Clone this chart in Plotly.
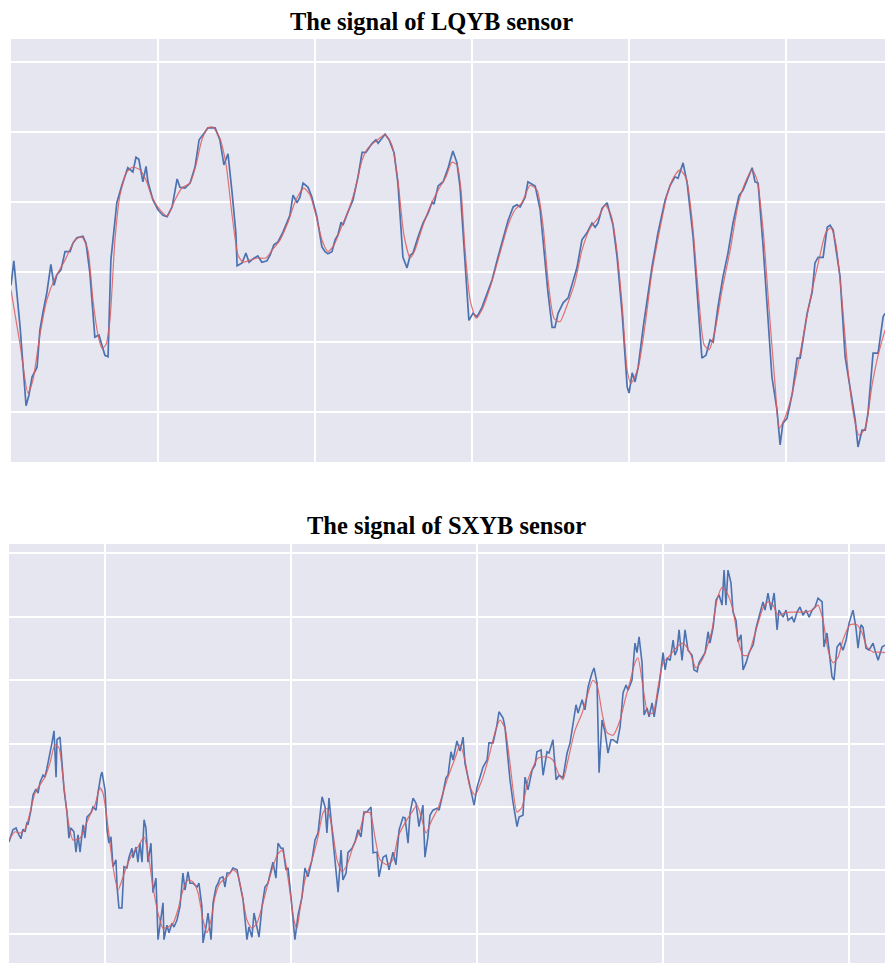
import plotly.graph_objects as go

# ---------------- LQYB sensor ----------------
lqyb_t = [
    3.2, 4.1, 6.1, 8.0, 8.9, 9.9, 11.5, 12.4, 13.4, 14.6,
    15.9, 16.9, 17.8, 19.1, 20.4, 22.0, 22.9, 24.2, 26.1, 27.1,
    28.3, 29.9, 31.2, 32.2, 33.1, 34.1, 35.0, 36.9, 38.5, 40.4,
    42.0, 43.0, 43.9, 45.2, 46.2, 46.8, 48.4, 50.0, 51.6, 52.9,
    54.5, 56.1, 57.0, 58.6, 60.2, 61.8, 63.1, 65.0, 65.9, 68.2,
    69.7, 71.0, 72.3, 73.6, 74.8, 75.2, 76.8, 78.0, 79.0, 80.3,
    81.8, 83.1, 84.7, 85.7, 86.9, 88.2, 89.8, 92.0, 93.0, 94.3,
    95.2, 96.2, 97.8, 99.0, 100.6, 102.2, 103.2, 104.1, 105.4, 106.4,
    107.3, 108.3, 108.9, 110.5, 112.1, 113.7, 115.0, 116.2, 118.2, 119.4,
    120.1, 122.3, 123.6, 125.2, 126.4, 128.0, 129.3, 130.3, 131.2, 132.8,
    134.4, 136.0, 137.3, 137.9, 139.2, 140.8, 142.4, 143.9, 145.2, 146.2,
    147.1, 148.4, 149.0, 150.3, 151.6, 153.2, 154.8, 156.4, 158.0, 159.9,
    161.5, 163.1, 164.3, 165.3, 166.9, 167.8, 170.1, 171.7, 173.2, 174.2,
    175.5, 176.4, 177.4, 179.0, 180.6, 182.2, 183.4, 185.0, 186.6, 188.2,
    189.2, 190.1, 191.4, 193.0, 194.9, 196.2, 197.8, 199.4, 200.0, 201.0,
    201.9, 202.9, 204.5, 207.3, 209.2, 211.5, 213.1, 214.6, 215.6, 217.2,
    218.5, 220.4, 222.0, 223.2, 224.5, 225.8, 226.8, 228.3, 229.9, 231.5,
    233.1, 235.0, 236.3, 237.6, 239.2, 240.1, 241.1, 242.7, 244.3, 245.5,
    247.1, 248.1, 249.0, 250.3, 252.0, 253.5, 254.5, 256.7, 258.3, 259.2,
    260.2, 261.8, 263.1, 264.0, 265.0, 266.2, 267.2, 268.8, 270.4, 272.0,
    272.9, 274.2, 275.2, 276.1, 277.7, 279.3, 280.9, 281.5,
]
lqyb_raw = [
    1.81, 2.16, 1.21, 0.09, 0.24, 0.50, 0.64, 1.17, 1.43, 1.70,
    2.11, 1.81, 1.96, 2.03, 2.29, 2.29, 2.41, 2.49, 2.51, 2.41,
    1.99, 1.07, 1.10, 0.96, 0.81, 0.79, 2.17, 2.99, 3.24, 3.49,
    3.43, 3.64, 3.61, 3.29, 3.51, 3.29, 3.03, 2.89, 2.81, 2.79,
    2.93, 3.33, 3.21, 3.20, 3.27, 3.50, 3.89, 4.00, 4.06, 4.06,
    3.89, 3.53, 3.69, 3.13, 2.56, 2.09, 2.13, 2.27, 2.14, 2.19,
    2.23, 2.14, 2.16, 2.24, 2.39, 2.43, 2.57, 2.81, 3.10, 2.99,
    3.07, 3.27, 3.21, 3.07, 2.79, 2.36, 2.29, 2.26, 2.29, 2.46,
    2.53, 2.71, 2.67, 2.86, 3.03, 3.36, 3.71, 3.71, 3.84, 3.89,
    3.84, 3.97, 3.89, 3.70, 3.27, 2.21, 2.06, 2.24, 2.27, 2.50,
    2.70, 2.84, 3.00, 2.97, 3.23, 3.29, 3.49, 3.73, 3.56, 3.21,
    2.64, 1.79, 1.31, 1.41, 1.36, 1.50, 1.70, 1.89, 2.17, 2.50,
    2.74, 2.93, 2.96, 2.93, 3.07, 3.29, 3.23, 2.89, 2.17, 1.70,
    1.21, 1.21, 1.41, 1.56, 1.63, 1.86, 2.06, 2.46, 2.56, 2.70,
    2.64, 2.70, 2.91, 2.99, 2.67, 2.21, 1.41, 0.36, 0.27, 0.56,
    0.43, 0.64, 1.21, 2.07, 2.56, 3.03, 3.24, 3.36, 3.34, 3.56,
    3.27, 2.50, 1.50, 0.77, 0.81, 1.03, 1.00, 1.50, 1.93, 2.27,
    2.70, 3.09, 3.17, 3.31, 3.49, 3.29, 3.27, 2.36, 1.31, 0.50,
    0.03, -0.47, -0.16, -0.09, 0.27, 0.77, 0.77, 1.41, 1.71, 2.13,
    2.21, 2.21, 2.64, 2.67, 2.60, 2.27, 1.93, 0.79, 0.36, -0.11,
    -0.50, -0.26, -0.26, -0.01, 0.84, 0.84, 1.36, 1.41,
]
lqyb_smooth_t = [
    3.2, 6.1, 8.6, 10.2, 12.4, 14.6, 17.2, 20.4, 23.6, 25.8,
    27.7, 29.3, 30.9, 32.2, 33.4, 34.7, 36.3, 37.9, 40.1, 42.0,
    44.3, 46.2, 48.1, 50.6, 52.9, 55.4, 57.6, 60.2, 62.1, 64.0,
    65.9, 67.5, 69.7, 71.7, 73.6, 75.5, 77.1, 79.3, 81.8, 84.4,
    86.3, 88.9, 91.4, 93.9, 96.5, 98.4, 100.3, 102.2, 104.1, 106.1,
    108.3, 110.5, 112.7, 115.0, 116.9, 119.4, 122.3, 124.5, 126.4, 128.3,
    130.3, 131.8, 134.1, 136.6, 139.2, 141.7, 143.6, 145.2, 146.5, 147.8,
    149.4, 151.3, 153.2, 155.7, 158.9, 161.5, 163.7, 165.9, 168.5, 170.7,
    172.6, 174.2, 176.1, 178.0, 180.3, 182.8, 185.0, 187.6, 190.1, 192.4,
    194.3, 195.9, 197.8, 199.4, 200.6, 202.9, 205.1, 207.3, 209.9, 212.1,
    214.3, 216.2, 218.2, 220.1, 222.0, 223.9, 225.5, 227.4, 229.6, 232.2,
    234.7, 236.9, 239.2, 240.8, 242.7, 244.6, 246.5, 247.8, 249.4, 251.6,
    253.8, 256.1, 258.3, 260.8, 262.7, 264.3, 265.9, 267.8, 269.7, 271.7,
    273.2, 275.2, 277.4, 279.3, 281.5,
]
lqyb_smooth = [
    1.74, 0.96, 0.27, 0.46, 1.10, 1.60, 1.91, 2.17, 2.46, 2.50,
    2.31, 1.60, 1.10, 0.91, 0.96, 1.31, 2.46, 3.10, 3.43, 3.50,
    3.46, 3.31, 3.07, 2.89, 2.80, 3.03, 3.20, 3.27, 3.53, 3.89,
    4.06, 4.07, 3.91, 3.53, 2.81, 2.24, 2.14, 2.17, 2.20, 2.20,
    2.31, 2.46, 2.71, 3.03, 3.20, 3.10, 2.81, 2.46, 2.29, 2.39,
    2.63, 2.86, 3.17, 3.60, 3.77, 3.87, 3.96, 3.81, 3.31, 2.53,
    2.20, 2.31, 2.63, 2.93, 3.17, 3.36, 3.57, 3.53, 3.17, 2.31,
    1.60, 1.34, 1.46, 1.77, 2.27, 2.67, 2.89, 2.99, 3.24, 3.17,
    2.67, 1.89, 1.34, 1.29, 1.53, 1.86, 2.31, 2.63, 2.77, 2.96,
    2.81, 2.39, 1.53, 0.60, 0.41, 0.63, 1.24, 2.00, 2.63, 3.10,
    3.36, 3.46, 3.34, 2.74, 1.74, 0.96, 0.89, 1.17, 1.74, 2.31,
    2.96, 3.27, 3.46, 3.31, 2.60, 1.46, 0.39, -0.23, -0.11, 0.20,
    0.67, 1.24, 1.74, 2.24, 2.57, 2.63, 2.39, 1.60, 0.60, -0.09,
    -0.33, -0.23, 0.39, 0.81, 1.17,
]

# ---------------- SXYB sensor ----------------
sxyb_t = [
    -1.6, 0.5, 2.2, 3.2, 4.8, 5.9, 7.0, 8.1, 8.6, 10.2,
    11.3, 12.9, 14.0, 15.1, 16.7, 17.7, 18.8, 20.4, 21.5, 22.6,
    23.7, 24.2, 25.8, 26.9, 28.0, 29.6, 30.6, 31.7, 33.3, 34.4,
    35.5, 36.6, 38.2, 39.2, 40.3, 42.5, 43.5, 45.2, 46.2, 47.8,
    48.4, 50.0, 51.1, 52.1, 53.2, 54.3, 55.9, 56.5, 57.5, 59.1,
    60.2, 61.8, 62.9, 64.5, 65.1, 66.7, 67.7, 68.8, 69.9, 71.0,
    72.0, 73.1, 74.7, 75.8, 77.4, 78.5, 80.1, 81.2, 81.7, 83.3,
    84.4, 86.0, 87.1, 88.7, 90.3, 91.9, 93.0, 94.6, 95.7, 97.3,
    99.5, 100.5, 102.1, 102.7, 104.3, 105.4, 107.0, 108.1, 109.7, 110.8,
    111.8, 113.4, 114.5, 115.6, 117.2, 118.8, 121.0, 122.0, 124.2, 125.3,
    126.3, 127.4, 129.0, 130.1, 131.7, 132.8, 134.4, 136.0, 137.6, 139.2,
    140.3, 141.9, 143.0, 144.6, 145.7, 147.3, 148.4, 150.0, 151.0, 152.1,
    153.8, 155.9, 157.5, 159.1, 161.3, 162.9, 164.5, 166.7, 168.3, 169.3,
    170.4, 172.6, 173.6, 175.3, 176.9, 177.9, 179.6, 180.6, 182.8, 184.4,
    186.0, 187.6, 189.2, 190.8, 193.0, 194.1, 196.2, 197.3, 199.5, 201.1,
    202.7, 204.8, 206.4, 208.1, 210.2, 211.3, 212.9, 214.0, 215.6, 217.2,
    218.8, 220.9, 222.0, 223.6, 224.7, 226.3, 228.5, 229.6, 231.7, 233.3,
    234.4, 236.0, 237.1, 239.2, 240.8, 242.5, 243.5, 245.1, 247.3, 248.4,
    250.0, 251.6, 253.2, 255.4, 256.4, 258.6, 260.7, 261.8, 264.0, 265.0,
    266.6, 267.7, 269.3, 271.5, 272.6, 274.7, 275.8, 277.4, 279.6, 281.2,
    282.2, 284.4, 285.5, 287.6, 288.7, 290.8, 292.5, 294.1, 296.2, 298.4,
    300.0, 301.6, 303.2, 304.3, 306.5, 308.0, 309.7, 311.8, 312.9, 314.5,
    315.6, 317.2, 318.8, 320.4, 322.0, 323.1, 325.3, 326.9, 328.5, 330.1,
    331.2, 333.3, 334.9, 336.0, 337.1, 338.7, 339.8, 341.4, 342.5, 344.1,
    345.2, 346.8, 347.8, 350.0, 351.1, 352.2, 353.8, 355.4, 356.4, 357.5,
    358.6, 360.2, 361.8, 363.4, 365.6, 366.6, 368.3, 369.3, 370.9, 372.6,
    374.2, 375.2, 376.9, 378.5, 380.1, 381.7, 382.8, 383.8, 384.9, 386.5,
    387.6, 389.2, 390.3, 391.9, 393.0, 394.6, 396.2, 398.4, 400.0, 401.6,
    403.7, 404.8, 406.4, 408.0, 409.7, 411.3, 412.3, 414.5, 416.1, 417.2,
    419.3, 420.4, 422.0, 423.6, 425.2, 426.9, 428.5, 430.1, 431.7, 433.3,
    435.5, 436.5, 438.1, 439.2, 440.8, 441.9, 443.5, 445.1, 446.7, 448.4,
    450.0, 452.1, 453.7, 454.8, 456.4, 457.5, 459.1, 460.7, 462.9, 463.9,
    465.6, 467.7, 469.3,
]
sxyb_raw = [
    1.45, 1.64, 1.67, 1.59, 1.50, 1.65, 1.61, 1.76, 1.72, 1.95,
    2.19, 2.28, 2.22, 2.39, 2.50, 2.47, 2.61, 2.82, 3.01, 3.20,
    2.47, 3.06, 3.10, 2.69, 2.27, 1.91, 1.51, 1.67, 1.61, 1.29,
    1.56, 1.29, 1.72, 1.51, 1.84, 1.91, 2.00, 1.95, 2.22, 2.50,
    2.55, 2.27, 1.64, 1.43, 1.53, 1.06, 1.17, 0.74, 0.41, 0.41,
    1.06, 1.04, 1.21, 1.35, 1.20, 1.37, 1.13, 1.43, 1.13, 1.80,
    1.67, 1.13, 1.43, 0.65, 0.88, -0.09, 0.22, 0.49, -0.09, 0.14,
    0.02, 0.17, 0.11, 0.22, 0.43, 0.96, 0.69, 0.98, 0.80, 0.80,
    0.74, 0.80, 0.43, -0.14, 0.11, 0.33, -0.09, 0.49, 0.74, 0.80,
    0.88, 0.90, 0.74, 0.96, 0.96, 1.04, 1.01, 0.85, 0.54, 0.22,
    -0.09, 0.11, -0.05, 0.33, 0.11, -0.05, 0.43, 0.74, 0.80, 1.01,
    1.13, 0.88, 1.43, 1.35, 1.35, 1.01, 1.04, 0.58, 0.27, -0.09,
    0.30, 0.58, 1.04, 0.90, 1.17, 1.48, 1.59, 2.16, 2.00, 1.59,
    2.14, 1.48, 1.21, 0.66, 1.32, 0.85, 0.96, 1.28, 1.35, 1.45,
    1.64, 1.53, 1.92, 1.92, 2.00, 1.28, 1.29, 0.90, 1.21, 1.24,
    1.01, 1.29, 1.09, 1.64, 1.84, 1.83, 1.43, 1.91, 2.14, 2.06,
    1.69, 2.03, 1.21, 1.53, 1.87, 1.95, 1.98, 1.95, 2.22, 2.46,
    2.50, 2.87, 2.74, 3.04, 2.88, 3.10, 2.69, 2.47, 2.19, 2.03,
    2.31, 2.47, 2.63, 2.74, 3.01, 3.01, 3.29, 3.50, 3.40, 3.26,
    2.74, 2.43, 2.08, 1.69, 1.84, 1.87, 2.47, 2.27, 2.58, 2.66,
    2.87, 2.90, 2.50, 2.87, 2.85, 3.06, 2.43, 2.50, 2.46, 2.85,
    3.01, 3.32, 3.61, 3.48, 3.69, 3.53, 3.89, 4.11, 4.19, 3.95,
    2.54, 3.37, 3.18, 2.85, 3.06, 3.06, 3.01, 3.26, 3.80, 3.92,
    3.84, 4.00, 4.58, 4.43, 4.68, 4.27, 3.45, 3.56, 3.42, 3.64,
    3.42, 3.73, 3.89, 4.43, 4.16, 4.35, 4.31, 4.63, 4.39, 4.47,
    4.79, 4.31, 4.79, 4.47, 4.39, 4.16, 4.13, 4.27, 4.36, 4.43,
    4.76, 4.58, 4.83, 5.26, 5.34, 5.18, 5.73, 5.18, 5.73, 5.53,
    5.07, 4.94, 4.60, 4.71, 4.16, 4.27, 4.43, 4.55, 4.82, 4.98,
    5.23, 5.10, 5.37, 5.10, 5.37, 4.79, 5.10, 4.99, 5.10, 4.94,
    4.99, 4.91, 5.07, 5.15, 5.02, 5.10, 4.99, 5.10, 5.15, 5.29,
    5.23, 4.52, 4.74, 4.47, 4.05, 4.00, 4.52, 4.58, 4.47, 4.63,
    4.90, 5.10, 4.82, 4.50, 4.87, 4.83, 4.50, 4.47, 4.58, 4.47,
    4.31, 4.52, 4.55,
]
sxyb_smooth_t = [
    -1.6, 1.6, 4.3, 7.0, 9.7, 12.4, 15.1, 17.7, 20.4, 23.1,
    25.3, 27.4, 30.1, 32.8, 36.6, 39.2, 41.9, 44.6, 47.3, 48.9,
    51.6, 54.3, 57.0, 59.7, 62.4, 65.1, 67.7, 71.0, 73.1, 75.8,
    78.5, 81.2, 83.9, 86.6, 89.2, 91.9, 94.6, 97.3, 100.0, 102.7,
    104.8, 107.0, 109.1, 111.8, 115.6, 118.8, 121.0, 123.6, 126.3, 129.0,
    131.7, 134.4, 137.1, 139.8, 142.5, 145.2, 146.8, 149.5, 151.6, 153.2,
    154.8, 157.5, 161.3, 164.5, 167.2, 169.3, 172.0, 174.7, 177.4, 180.1,
    183.3, 187.1, 189.8, 192.5, 195.1, 197.8, 201.6, 204.8, 207.5, 211.3,
    215.0, 217.7, 220.4, 222.6, 225.8, 229.0, 231.7, 234.4, 238.2, 240.8,
    243.5, 246.2, 248.9, 252.7, 255.9, 259.7, 262.3, 265.0, 267.7, 271.5,
    274.2, 277.4, 280.1, 282.8, 287.6, 290.8, 293.5, 296.2, 298.9, 302.7,
    306.5, 309.7, 312.3, 314.5, 317.2, 319.9, 323.1, 326.9, 329.6, 332.2,
    334.9, 336.5, 339.2, 341.9, 344.6, 347.3, 350.0, 353.8, 357.5, 360.7,
    364.5, 367.7, 370.9, 373.6, 376.3, 379.0, 381.7, 384.4, 387.6, 390.3,
    393.0, 395.7, 398.4, 401.1, 403.7, 406.4, 409.1, 411.8, 415.6, 419.3,
    422.6, 426.3, 430.1, 433.3, 436.0, 438.7, 441.4, 444.1, 446.7, 450.5,
    454.3, 457.0, 459.6, 462.9, 466.7, 469.3,
]
sxyb_smooth = [
    1.48, 1.61, 1.59, 1.64, 1.91, 2.22, 2.35, 2.47, 2.69, 2.98,
    2.93, 2.47, 1.80, 1.48, 1.51, 1.69, 1.87, 2.03, 2.30, 2.22,
    1.69, 1.06, 0.69, 0.90, 1.12, 1.28, 1.37, 1.53, 1.28, 0.74,
    0.33, 0.09, 0.11, 0.17, 0.38, 0.69, 0.85, 0.82, 0.65, 0.22,
    0.02, 0.22, 0.58, 0.80, 0.90, 1.01, 0.96, 0.65, 0.22, 0.09,
    0.17, 0.43, 0.74, 1.01, 1.24, 1.32, 1.17, 0.65, 0.22, 0.09,
    0.38, 0.85, 1.17, 1.53, 1.91, 1.98, 1.69, 1.17, 0.98, 1.09,
    1.37, 1.64, 1.91, 1.91, 1.53, 1.17, 1.09, 1.17, 1.53, 1.75,
    1.92, 2.03, 1.80, 1.59, 1.80, 1.98, 2.22, 2.47, 2.77, 2.98,
    2.74, 2.31, 2.19, 2.43, 2.74, 3.18, 3.37, 3.24, 2.69, 1.92,
    2.00, 2.43, 2.63, 2.77, 2.79, 2.74, 2.54, 2.43, 2.74, 3.21,
    3.48, 3.80, 4.00, 3.92, 3.48, 3.17, 3.13, 3.37, 3.69, 3.97,
    4.27, 4.35, 3.89, 3.48, 3.48, 3.89, 4.27, 4.39, 4.52, 4.58,
    4.43, 4.19, 4.31, 4.52, 4.79, 5.26, 5.46, 5.37, 5.10, 4.63,
    4.39, 4.39, 4.63, 4.90, 5.13, 5.23, 5.18, 5.02, 5.06, 5.07,
    5.07, 5.07, 5.10, 5.18, 4.94, 4.47, 4.27, 4.36, 4.63, 4.87,
    4.87, 4.74, 4.52, 4.44, 4.44, 4.43,
]

# ---------------- styling ----------------
BG = "#E6E6F0"
RAW_COLOR = "#4C72B0"
SMOOTH_COLOR = "rgba(222,92,92,0.85)"
TITLE_FONT = dict(family="Liberation Serif, Times New Roman, serif", size=24.5, color="black")

fig = go.Figure()

fig.add_trace(go.Scatter(x=lqyb_t, y=lqyb_raw, mode="lines",
                         line=dict(color=RAW_COLOR, width=1.7),
                         xaxis="x", yaxis="y", showlegend=False))
fig.add_trace(go.Scatter(x=lqyb_smooth_t, y=lqyb_smooth, mode="lines",
                         line=dict(color=SMOOTH_COLOR, width=1.2, shape="spline", smoothing=0.6),
                         xaxis="x", yaxis="y", showlegend=False))
fig.add_trace(go.Scatter(x=sxyb_t, y=sxyb_raw, mode="lines",
                         line=dict(color=RAW_COLOR, width=1.6),
                         xaxis="x2", yaxis="y2", showlegend=False))
fig.add_trace(go.Scatter(x=sxyb_smooth_t, y=sxyb_smooth, mode="lines",
                         line=dict(color=SMOOTH_COLOR, width=1.2, shape="spline", smoothing=0.6),
                         xaxis="x2", yaxis="y2", showlegend=False))

common_axis = dict(showticklabels=False, ticks="", showline=False, zeroline=False,
                   showgrid=True, gridcolor="white", gridwidth=1.6, fixedrange=True)

W, H = 885, 963

fig.update_layout(
    width=W, height=H,
    margin=dict(l=0, r=0, t=0, b=0),
    paper_bgcolor="white",
    plot_bgcolor=BG,
    xaxis=dict(domain=[11 / W, 1], range=[3.2, 281.5], tickmode="array",
               tickvals=[50, 100, 150, 200, 250], anchor="y", **common_axis),
    yaxis=dict(domain=[1 - 462 / H, 1 - 39 / H], range=[-0.714, 5.329], tickmode="array",
               tickvals=[0, 1, 2, 3, 4, 5], anchor="x", **common_axis),
    xaxis2=dict(domain=[9 / W, 1], range=[-1.6, 469.3], tickmode="array",
                tickvals=[50, 150, 250, 350, 450], anchor="y2", **common_axis),
    yaxis2=dict(domain=[0, 1 - 544 / H], range=[-0.457, 6.142], tickmode="array",
                tickvals=[0, 1, 2, 3, 4, 5, 6], anchor="x2", **common_axis),
    annotations=[
        dict(text="<b>The signal of LQYB sensor</b>", xref="paper", yref="paper",
             x=431 / W, y=1 - 22 / H, xanchor="center", yanchor="middle",
             showarrow=False, font=TITLE_FONT),
        dict(text="<b>The signal of SXYB sensor</b>", xref="paper", yref="paper",
             x=446 / W, y=1 - 525 / H, xanchor="center", yanchor="middle",
             showarrow=False, font=TITLE_FONT),
    ],
)

fig.write_html("out.html")
